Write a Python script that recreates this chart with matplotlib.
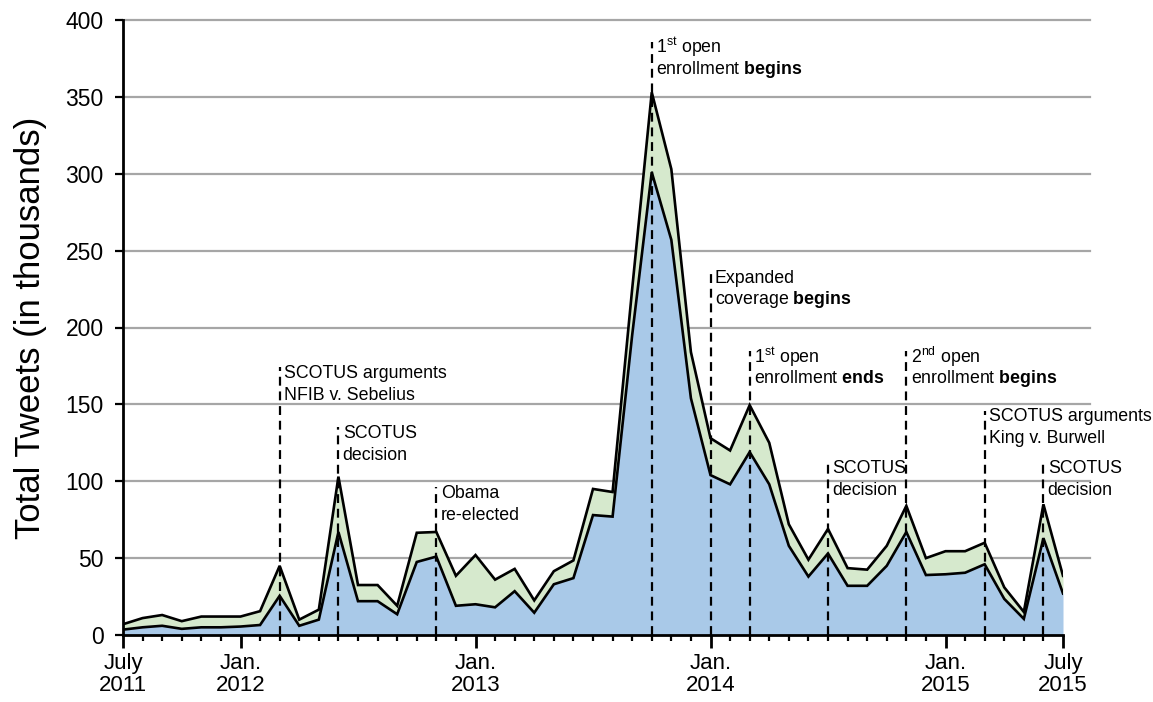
import numpy as np
import matplotlib.pyplot as plt

plt.rcParams['font.family'] = ['Liberation Sans', 'DejaVu Sans']
plt.rcParams['mathtext.fontset'] = 'custom'
plt.rcParams['mathtext.rm'] = 'Liberation Sans'
plt.rcParams['mathtext.it'] = 'Liberation Sans:italic'
plt.rcParams['mathtext.bf'] = 'Liberation Sans:bold'

# monthly totals in thousands, July 2011 .. July 2015
months = np.arange(49)
base = [3.5, 5, 6, 4, 5, 5, 5.5, 6.5, 25.5, 6, 10, 67, 22, 22, 13.5, 47.5, 51,
        19, 20, 18, 28.5, 14.5, 33, 37, 78, 77, 195, 301, 257, 154, 104, 98,
        119, 98, 58, 38, 53, 32, 32, 45, 67, 39, 39.5, 40.5, 46, 23.5, 10.5, 63, 27]
total = [7, 11, 13, 9, 12, 12, 12, 15.5, 45, 10, 16.5, 103, 32.5, 32.5, 19, 66.5, 67,
         38.5, 52, 36, 43, 22.5, 41.5, 48.5, 95, 93, 225, 353, 303, 184, 128, 120,
         149.5, 125, 72, 49, 69, 43.5, 42.5, 58, 84, 50, 54.5, 54.5, 60, 31, 15, 85, 38.5]

# events: month index, height of marker line, first line, second line
ev_month = [8, 11, 16, 27, 30, 32, 36, 40, 44, 47]
ev_top = [174, 135, 96, 386, 236, 185, 112, 185, 146, 112]
ev_line1 = ['SCOTUS arguments', 'SCOTUS', 'Obama', r'1$^{\mathrm{st}}$ open',
            'Expanded', r'1$^{\mathrm{st}}$ open', 'SCOTUS', r'2$^{\mathrm{nd}}$ open',
            'SCOTUS arguments', 'SCOTUS']
ev_line2 = ['NFIB v. Sebelius', 'decision', 're-elected', r'enrollment $\mathbf{begins}$',
            r'coverage $\mathbf{begins}$', r'enrollment $\mathbf{ends}$', 'decision',
            r'enrollment $\mathbf{begins}$', 'King v. Burwell', 'decision']

tick_pos = [0, 6, 18, 30, 42, 48]
tick_lab = ['July\n2011', 'Jan.\n2012', 'Jan.\n2013', 'Jan.\n2014', 'Jan.\n2015', 'July\n2015']

fig = plt.figure(figsize=(11.53, 7.02), dpi=100)
ax = fig.add_axes([123/1153, 1-635/702, 940/1153, 615/702])

# gridlines, running a bit past the right end
for v in range(50, 401, 50):
    ax.axhline(v, xmin=0, xmax=1.029, color='#a6a6a6', lw=1.6, zorder=0, clip_on=False)

ax.fill_between(months, 0, base, color='#a9c9e8', lw=0, zorder=1)
ax.fill_between(months, base, total, color='#d6e9cd', lw=0, zorder=1)
ax.plot(months, base, color='black', lw=1.9, zorder=2, solid_joinstyle='miter')
ax.plot(months, total, color='black', lw=1.9, zorder=2, solid_joinstyle='miter')

for m, t, l1, l2 in zip(ev_month, ev_top, ev_line1, ev_line2):
    ax.plot([m, m], [0, t], color='black', lw=1.6, ls=(0, (4, 2.6)), zorder=3)
    ax.text(m + 0.22, t - 4, l1, fontsize=12.8, va='center', ha='left', zorder=4)
    ax.text(m + 0.22, t - 18, l2, fontsize=12.8, va='center', ha='left', zorder=4)

ax.set_xlim(0, 48)
ax.set_ylim(0, 400)
ax.set_yticks(range(0, 401, 50))
ax.set_xticks(tick_pos)
ax.set_xticklabels(tick_lab, linespacing=1.08)
ax.set_xticks(months, minor=True)
ax.tick_params(axis='y', length=6, width=1.6, labelsize=16.5, pad=8)
ax.tick_params(axis='x', which='major', length=9, width=2, labelsize=16, pad=4)
ax.tick_params(axis='x', which='minor', length=4.5, width=1.6)

for s in ['top', 'right']:
    ax.spines[s].set_visible(False)
for s in ['left', 'bottom']:
    ax.spines[s].set_linewidth(2)
    ax.spines[s].set_zorder(5)

ax.set_ylabel('Total Tweets (in thousands)', fontsize=25, labelpad=13)

fig.savefig('out.png', dpi=100)
